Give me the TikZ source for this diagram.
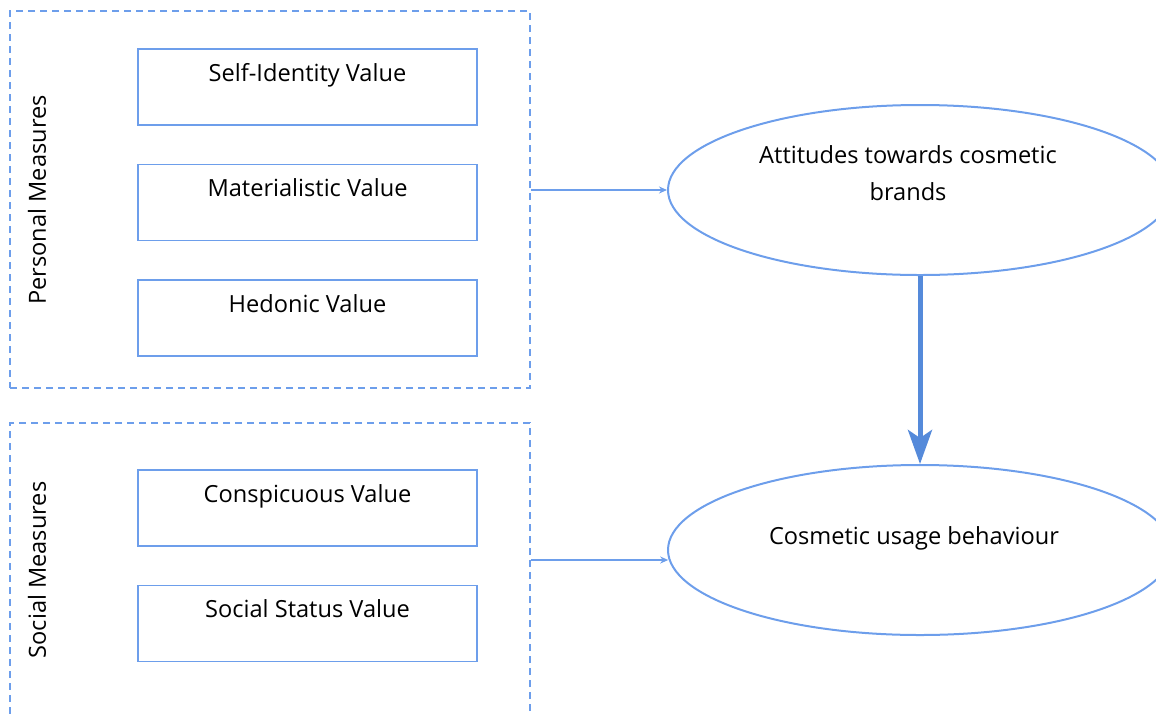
\documentclass[tikz,border=0pt]{standalone}
\usepackage{fontspec}
\setmainfont{Open Sans}
\usetikzlibrary{positioning,shapes.geometric,arrows.meta}
\definecolor{lineblue}{RGB}{109,158,235}
\definecolor{arrowblue}{RGB}{85,138,218}
\tikzset{
node distance=19pt,
font=\fontsize{11.8}{18.5}\selectfont,
>={Stealth[length=4pt,width=3.5pt]},
value/.style={draw=lineblue,line width=0.75pt,rectangle,inner sep=0pt,minimum width=169.5pt,text height=16pt,text depth=22pt},
group/.style={draw=lineblue,line width=0.75pt,dash pattern=on 3.5pt off 2.5pt,rectangle,inner sep=0pt,minimum width=260pt},
outcome/.style={draw=lineblue,line width=1pt,ellipse,inner sep=0pt,minimum width=252pt,minimum height=85pt},
link/.style={draw=lineblue,line width=0.75pt,->},
causes/.style={draw=arrowblue,line width=2.5pt,-{Stealth[length=17pt,width=12pt,inset=4pt]}}
}
\begin{document}
\begin{tikzpicture}[x=0.5pt,y=-0.5pt]
\useasboundingbox (0,0) rectangle (1156,713);
\clip (0,0) rectangle (1156,713);

% measure groups
\node[group,minimum height=188.5pt] (personal) at (270,199.5) {};
\node[group,minimum height=160pt]   (social)   at (270,583)   {};
\fill[white] (social.south west) rectangle ([yshift=-2pt]social.south east);
\node[rotate=90] (pm) at (37,200) {Personal Measures};
\node[rotate=90] (sm) at (37,570) {Social Measures};

% value boxes
\node[value] (self)                     at (307.5,87)  {Self-Identity Value};
\node[value] (material) [below=of self]                {Materialistic Value};
\node[value] (hedonic)  [below=of material]            {Hedonic Value};
\node[value] (conspic)                  at (307.5,508) {Conspicuous Value};
\node[value] (status)   [below=of conspic]             {Social Status Value};

% outcomes
\node[outcome] (attitude) at (920,190)
  [label={[align=center,xshift=-6pt,yshift=8.5pt]center:Attitudes towards cosmetic\\brands}] {};
\node[outcome] (usage) at (920,550)
  [label={[xshift=-3pt,yshift=6pt]center:Cosmetic usage behaviour}] {};

\draw[link] (personal.east |- attitude.west) -- (attitude.west);
\draw[link] ([yshift=-5pt]social.east |- usage.west) -- ([yshift=-5pt,xshift=0.6pt]usage.west);
\draw[causes] (attitude.south) -- (usage.north);
\end{tikzpicture}
\end{document}
